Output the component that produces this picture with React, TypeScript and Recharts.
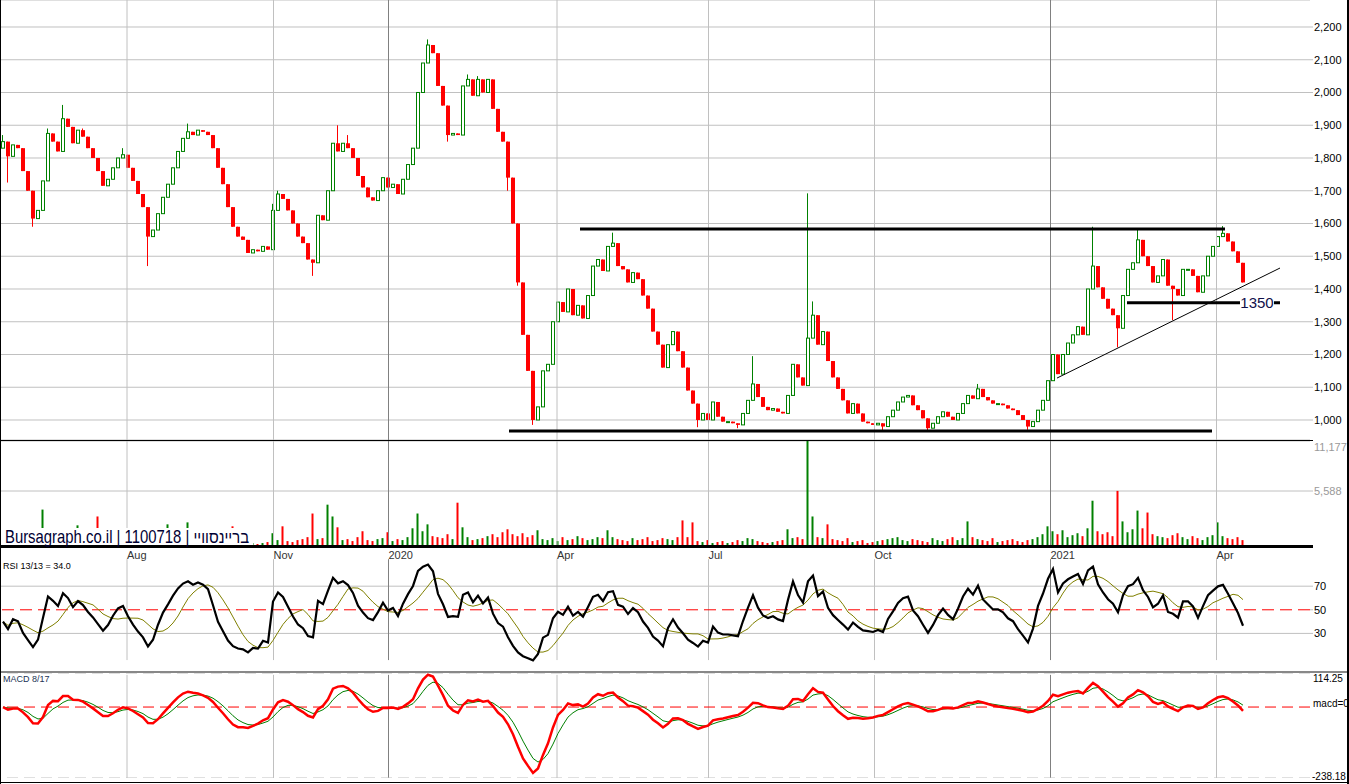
import React from 'react';
import {
  ComposedChart,
  Bar,
  Line,
  XAxis,
  YAxis,
  CartesianGrid,
  ReferenceLine,
  ReferenceDot,
  Cell,
} from 'recharts';

// closes, read every ~2 trading days, mid-June 2019 .. mid-April 2021
const closes = [
  1850, 1805, 1840, 1830, 1760, 1700, 1615, 1640, 1730, 1875,
  1850, 1820, 1920, 1895, 1845, 1885, 1865, 1830, 1800, 1760,
  1715, 1735, 1770, 1800, 1810, 1770, 1730, 1690, 1650, 1560,
  1580, 1630, 1680, 1720, 1770, 1820, 1860, 1880, 1870, 1885,
  1880, 1870, 1830, 1770, 1720, 1650, 1590, 1560, 1550, 1510,
  1520, 1515, 1530, 1520, 1640, 1690, 1675, 1640, 1600, 1560,
  1540, 1490, 1480, 1625, 1610, 1700, 1845, 1820, 1845, 1830,
  1800, 1745, 1710, 1680, 1670, 1700, 1740, 1710, 1720, 1690,
  1735, 1780, 1830, 2000, 2090, 2145, 2120, 2020, 1960, 1870,
  1875, 1870, 2020, 2040, 1990, 2040, 2000, 2040, 1950, 1880,
  1850, 1740, 1600, 1420, 1260, 1150, 1000, 1040, 1150, 1170,
  1300, 1360, 1330, 1400, 1320, 1350, 1310, 1380, 1470, 1490,
  1455, 1530, 1540, 1470, 1460, 1420, 1450, 1430, 1380, 1340,
  1270, 1230, 1160, 1230, 1270, 1210, 1160, 1090, 1050, 1000,
  1020, 1000, 1055, 1010, 995, 995, 990, 985, 1020, 1060,
  1110, 1070, 1040, 1030, 1035, 1025, 1020, 1075, 1170, 1130,
  1105, 1250, 1320, 1230, 1270, 1180, 1130, 1095, 1060, 1020,
  1050, 1020, 995, 990, 985, 990, 980, 1010, 1030, 1055,
  1070, 1075, 1045, 1030, 1005, 975, 990, 1010, 1025, 1010,
  1000, 1020, 1050, 1075, 1065, 1095, 1070, 1060, 1050, 1050,
  1045, 1035, 1030, 1015, 1000, 980, 995, 1030, 1060, 1120,
  1200, 1140, 1200, 1235, 1260, 1285, 1260, 1400, 1470, 1405,
  1370, 1340, 1320, 1280, 1380, 1460, 1480, 1550, 1500, 1470,
  1420, 1440, 1490, 1410, 1400, 1380, 1460, 1460, 1440, 1390,
  1440, 1500, 1530, 1560, 1570, 1545, 1515, 1480, 1420,
];
const firstOpen = 1830;

// [index, price] of the longer wicks
const highWicks = [
  [0, 1870], [9, 1890], [12, 1962], [16, 1890], [24, 1830], [37, 1905],
  [54, 1660], [55, 1700], [67, 1900], [69, 1870], [85, 2162], [93, 2055],
  [95, 2050], [122, 1572], [150, 1195], [161, 1692], [162, 1362], [195, 1110],
  [218, 1590], [227, 1585], [244, 1592],
];
const lowWicks = [
  [1, 1725], [6, 1590], [29, 1470], [62, 1440], [89, 1850], [101, 1700],
  [103, 1410], [106, 985], [139, 978], [147, 975], [176, 970], [185, 965],
  [205, 970], [223, 1222], [234, 1305],
];

const volumes = [
  600, 900, 500, 700, 800, 1000, 1200, 900, 3700, 1100,
  700, 600, 900, 800, 600, 2100, 700, 900, 800, 3000,
  900, 700, 600, 800, 700, 900, 1000, 800, 1100, 1500,
  900, 800, 700, 2200, 900, 800, 1000, 2400, 800, 700,
  600, 900, 1000, 800, 900, 700, 2000, 800, 600, 400,
  300, 200, 300, 400, 1300, 600, 2000, 500, 400, 600,
  700, 900, 3300, 700, 800, 4200, 3000, 1900, 600, 700,
  500, 900, 1500, 600, 500, 700, 800, 1400, 500, 700,
  600, 900, 1800, 3300, 1500, 2200, 1000, 900, 800, 1200,
  700, 4400, 1900, 900, 600, 700, 800, 1000, 1200, 900,
  1400, 1700, 1200, 1000, 1300, 900, 1100, 1600, 700, 600,
  800, 500, 900, 600, 700, 1000, 800, 600, 700, 900,
  800, 1600, 900, 700, 600, 500, 800, 600, 700, 900,
  500, 600, 800, 700, 600, 900, 2600, 900, 2400, 500,
  400, 600, 300, 400, 500, 300, 400, 600, 500, 800,
  700, 500, 400, 300, 400, 500, 600, 1700, 800, 900,
  700, 12000, 3000, 900, 800, 2200, 700, 600, 500, 800,
  400, 500, 600, 300, 400, 500, 600, 700, 800, 900,
  600, 500, 700, 600, 500, 400, 800, 600, 500, 700,
  900, 600, 800, 2500, 900, 700, 600, 500, 800, 400,
  500, 600, 700, 500, 400, 600, 700, 900, 1200, 2000,
  1500, 1200, 1600, 900, 1100, 1300, 1000, 1800, 4600, 1500,
  1200, 1400, 1000, 5600, 2500, 1400, 1700, 3600, 1800, 3400,
  1200, 1000, 900, 800, 1100, 1300, 900, 700, 1000, 800,
  600, 900, 1100, 2400, 1000, 800, 700, 900, 600,
];

const priceTicks = [1000, 1100, 1200, 1300, 1400, 1500, 1600, 1700, 1800, 1900, 2000, 2100, 2200];
const monthLabels = ['Aug', 'Nov', '2020', 'Apr', 'Jul', 'Oct', '2021', 'Apr'];
const monthPos = [24.8, 54.1, 77.1, 110.8, 141.1, 174.3, 209.5, 242.7];

const UP = '#008000';
const DOWN = '#ff0000';
const GRID = '#c0c0c0';
const YEAR = '#808080';
const FONT = '"Liberation Sans", Arial, sans-serif';
const X_DOMAIN: [number, number] = [-0.6, 261.4];

const emaOf = (vals: number[], span: number) => {
  const a = 2 / (span + 1);
  const out: number[] = [];
  vals.forEach((v, i) => out.push(i === 0 ? v : out[i - 1] + a * (v - out[i - 1])));
  return out;
};

// Wilder RSI, seeded with an average move so it does not start at an extreme
const rsiOf = (vals: number[], n: number, seedGain: number, seedLoss: number) => {
  let ag = seedGain;
  let al = seedLoss;
  return vals.map((v, i) => {
    if (i > 0) {
      const d = v - vals[i - 1];
      ag = (ag * (n - 1) + Math.max(d, 0)) / n;
      al = (al * (n - 1) + Math.max(-d, 0)) / n;
    }
    return al === 0 ? 100 : 100 - 100 / (1 + ag / al);
  });
};

const smaOf = (vals: number[], n: number) =>
  vals.map((_, i) => {
    const s = vals.slice(Math.max(0, i - n + 1), i + 1);
    return s.reduce((a, b) => a + b, 0) / s.length;
  });

// the data is sampled every ~2 days, so the 13 / 8-17 periods are halved
const rsi = rsiOf(closes, 7, 16, 24);
const rsiSig = smaOf(rsi, 7);
const fast = emaOf(closes, 4);
const slow = emaOf(closes, 8.5);
const macd = fast.map((f, i) => f - slow[i]);
const macdSig = emaOf(macd, 4.5);

const rows = closes.map((c, i) => {
  const o = i === 0 ? firstOpen : closes[i - 1];
  const hw = highWicks.find((w) => w[0] === i);
  const lw = lowWicks.find((w) => w[0] === i);
  const hi = Math.max(o, c, hw ? hw[1] : -Infinity);
  const lo = Math.min(o, c, lw ? lw[1] : Infinity);
  return {
    i,
    open: o,
    close: c,
    range: [lo, hi === lo ? hi + 1 : hi],
    up: c >= o,
    vol: volumes[i] ?? 0,
    rsi: rsi[i],
    rsiSig: rsiSig[i],
    macd: macd[i],
    macdSig: macdSig[i],
  };
});

const Candle = (props: any) => {
  const { x, y, width, height, payload } = props;
  if (x == null || !payload) return null;
  const [lo, hi] = payload.range;
  const top = Math.min(y, y + height);
  const h = Math.abs(height);
  const k = h / (hi - lo);
  const yv = (v: number) => top + (hi - v) * k;
  const cx = Math.floor(x + width / 2) + 0.5;
  const color = payload.up ? UP : DOWN;
  const yo = yv(payload.open);
  const yc = yv(payload.close);
  const bt = Math.min(yo, yc);
  const bh = Math.max(Math.abs(yo - yc), 1);
  return (
    <g>
      <line x1={cx} x2={cx} y1={top} y2={top + h} stroke={color} strokeWidth={1} />
      {payload.up ? (
        <rect x={Math.round(x) + 0.5} y={bt} width={width - 1} height={bh} fill="#fff" stroke={color} strokeWidth={1} />
      ) : (
        <rect x={Math.round(x)} y={bt} width={width} height={bh} fill={color} />
      )}
    </g>
  );
};

const tickStyle = { fontSize: 11, fill: '#000', fontFamily: FONT };

const vGrid = (from?: number, to?: number) =>
  monthPos.map((p, k) => {
    const stroke = monthLabels[k].length === 4 ? YEAR : GRID;
    return from == null ? (
      <ReferenceLine key={'v' + k} x={p} stroke={stroke} strokeWidth={1} />
    ) : (
      <ReferenceLine key={'v' + k} segment={[{ x: p, y: from }, { x: p, y: to as number }]} stroke={stroke} strokeWidth={1} />
    );
  });

const MonthTick = (props: any) => {
  const { x, payload } = props;
  const k = monthPos.indexOf(payload.value);
  return (
    <text x={x} y={12} fontSize={11} fill="#333" fontFamily={FONT} textAnchor="start">
      {monthLabels[k]}
    </text>
  );
};

const Label1350 = (props: any) => {
  const { cx, cy } = props;
  if (cx == null) return null;
  return (
    <g>
      <rect x={cx - 17} y={cy - 9} width={34} height={18} fill="#fff" />
      <text x={cx} y={cy} dy="0.36em" fontSize={15} fill="#10104a" fontFamily={FONT} textAnchor="middle">
        1350
      </text>
    </g>
  );
};

const abs = (top: number, height: number): React.CSSProperties => ({
  position: 'absolute',
  left: 0,
  top,
  width: 1349,
  height,
});

const line = (left: number, top: number, width: number, height: number, color: string): React.CSSProperties => ({
  position: 'absolute',
  left,
  top,
  width,
  height,
  background: color,
});

export default function App() {
  const margin = { top: 0, right: 0, bottom: 0, left: 0 };
  return (
    <div
      style={{
        position: 'absolute',
        left: 0,
        top: 0,
        width: 1349,
        height: 784,
        background: '#fff',
        overflow: 'hidden',
        fontFamily: FONT,
      }}
    >
      {/* price */}
      <div style={abs(0, 440)}>
        <ComposedChart width={1349} height={440} data={rows} margin={margin}>
          <CartesianGrid vertical={false} stroke={GRID} />
          <XAxis type="number" dataKey="i" domain={X_DOMAIN} hide allowDataOverflow />
          <YAxis
            orientation="right"
            width={39}
            domain={[938.9, 2282.4]}
            ticks={priceTicks}
            interval={0}
            allowDataOverflow
            axisLine={false}
            tickLine={{ stroke: GRID }}
            tickSize={3}
            tickMargin={1}
            tick={tickStyle}
            tickFormatter={(v: number) => v.toLocaleString('en-US')}
          />
          {vGrid()}
          <Bar dataKey="range" barSize={4} shape={<Candle />} isAnimationActive={false} />
          <ReferenceLine segment={[{ x: 115.4, y: 1583 }, { x: 244.4, y: 1583 }]} stroke="#000" strokeWidth={3} />
          <ReferenceLine segment={[{ x: 101.2, y: 966 }, { x: 241.8, y: 966 }]} stroke="#000" strokeWidth={3} />
          <ReferenceLine segment={[{ x: 224.8, y: 1358 }, { x: 255.4, y: 1358 }]} stroke="#000" strokeWidth={3} />
          <ReferenceLine segment={[{ x: 210.8, y: 1128 }, { x: 255.4, y: 1464 }]} stroke="#000" strokeWidth={1} />
          <ReferenceDot x={250.8} y={1358} r={1} shape={<Label1350 />} />
        </ComposedChart>
      </div>

      {/* volume */}
      <div style={abs(441, 105)}>
        <ComposedChart width={1349} height={105} data={rows} margin={margin}>
          <CartesianGrid vertical={false} stroke={GRID} />
          <XAxis type="number" dataKey="i" domain={X_DOMAIN} hide allowDataOverflow />
          <YAxis
            orientation="right"
            width={39}
            domain={[0, 10668]}
            ticks={[5588]}
            allowDataOverflow
            axisLine={false}
            tickLine={{ stroke: GRID }}
            tickSize={3}
            tickMargin={1}
            tick={{ ...tickStyle, fill: '#999' }}
            tickFormatter={(v: number) => v.toLocaleString('en-US')}
          />
          {vGrid()}
          <Bar dataKey="vol" barSize={2} isAnimationActive={false}>
            {rows.map((r) => (
              <Cell key={r.i} fill={r.up ? UP : DOWN} />
            ))}
          </Bar>
        </ComposedChart>
      </div>

      {/* rsi */}
      <div style={abs(547, 123)}>
        <ComposedChart width={1349} height={123} data={rows} margin={margin}>
          <XAxis
            type="number"
            dataKey="i"
            domain={X_DOMAIN}
            orientation="top"
            height={2}
            ticks={monthPos}
            interval={0}
            axisLine={false}
            tickLine={false}
            tick={<MonthTick />}
            allowDataOverflow
          />
          <YAxis
            orientation="right"
            width={39}
            domain={[-1, 101.5]}
            ticks={[30, 50, 70]}
            interval={0}
            allowDataOverflow
            axisLine={false}
            tickLine={{ stroke: GRID }}
            tickSize={3}
            tickMargin={1}
            tick={tickStyle}
          />
          <ReferenceLine y={70} stroke={GRID} />
          <ReferenceLine y={30} stroke={GRID} />
          {vGrid(92.9, 7.4)}
          <ReferenceLine y={50} stroke="#ff0000" strokeDasharray="12 6" />
          <Line dataKey="rsiSig" stroke="#808000" strokeWidth={1} dot={false} isAnimationActive={false} />
          <Line dataKey="rsi" stroke="#000" strokeWidth={2.2} dot={false} isAnimationActive={false} />
        </ComposedChart>
      </div>

      {/* macd */}
      <div style={abs(673, 105)}>
        <ComposedChart width={1349} height={105} data={rows} margin={margin}>
          <XAxis type="number" dataKey="i" domain={X_DOMAIN} hide allowDataOverflow />
          <YAxis
            orientation="right"
            width={39}
            domain={[-238.18, 114.25]}
            ticks={[114.25, 0, -238.18]}
            allowDataOverflow
            axisLine={false}
            tickLine={false}
            tick={false}
          />
          {vGrid(108, -238.18)}
          <ReferenceLine y={114.25} stroke={GRID} strokeDasharray="11 6" />
          <ReferenceLine y={-238.18} stroke={GRID} strokeDasharray="11 6" />
          <ReferenceLine y={0} stroke="#ff0000" strokeDasharray="11 6" />
          <Line dataKey="macdSig" stroke={UP} strokeWidth={1} dot={false} isAnimationActive={false} />
          <Line dataKey="macd" stroke="#ff0000" strokeWidth={2.5} dot={false} isAnimationActive={false} />
        </ComposedChart>
      </div>

      {/* frame and separators */}
      <div style={line(0, 440, 1313, 1, '#000')} />
      <div style={line(0, 545, 1313, 3, '#000')} />
      <div style={line(0, 671, 1349, 2, '#888')} />
      <div style={line(0, 782, 1349, 1, '#000')} />
      <div style={line(0, 0, 1, 784, '#000')} />
      <div style={line(1347, 0, 2, 784, '#000')} />

      {/* texts */}
      <svg width={1349} height={784} style={{ position: 'absolute', left: 0, top: 0, pointerEvents: 'none' }}>
        <text x={1314} y={447} dy="0.35em" fontSize={11} fill="#999" fontFamily={FONT}>
          11,177
        </text>
        <text x={1313} y={678} dy="0.35em" fontSize={10} fill="#000" fontFamily={FONT}>
          114.25
        </text>
        <text x={1313} y={703} dy="0.35em" fontSize={10} fill="#000" fontFamily={FONT}>
          macd=0
        </text>
        <text x={1312} y={776} dy="0.35em" fontSize={10} fill="#000" fontFamily={FONT}>
          -238.18
        </text>
        <rect x={1} y={528} width={252} height={17} fill="#fff" />
        <text
          x={5}
          y={543}
          fontSize={17.5}
          fill="#000033"
          fontFamily={FONT}
          transform="translate(5 0) scale(0.85 1) translate(-5 0)"
        >
          Bursagraph.co.il | 1100718 | בריינסוויי
        </text>
        <text x={3} y={569} fontSize={9} fill="#000" fontFamily={FONT}>
          RSI 13/13 = 34.0
        </text>
        <text x={3} y={682} fontSize={9} fill="#223355" fontFamily={FONT}>
          MACD 8/17
        </text>
      </svg>
    </div>
  );
}
